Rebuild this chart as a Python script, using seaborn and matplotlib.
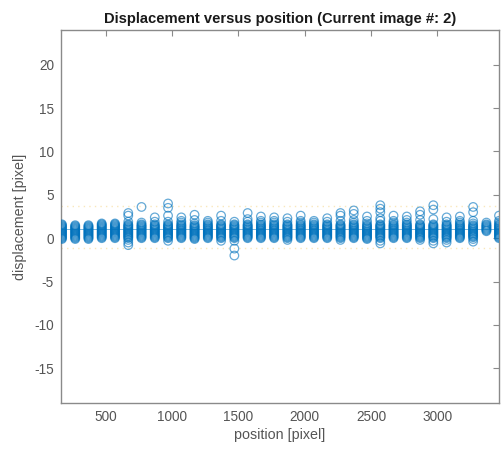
import numpy as np
import pandas as pd
import matplotlib
matplotlib.use("Agg")
import matplotlib.pyplot as plt
import seaborn as sns

sns.set_style("white")
plt.rcParams['font.family'] = ['Liberation Sans', 'DejaVu Sans']

# ---- data ----
title = "Displacement versus position (Current image #: 2)"
x_label = "position [pixel]"
y_label = "displacement [pixel]"
x_ticks = [500, 1000, 1500, 2000, 2500, 3000]
y_ticks = [-15, -10, -5, 0, 5, 10, 15, 20]

column_positions = [170, 270, 370, 470, 570, 670, 770, 870, 970, 1070,
                    1170, 1270, 1370, 1470, 1570, 1670, 1770, 1870, 1970, 2070,
                    2170, 2270, 2370, 2470, 2570, 2670, 2770, 2870, 2970, 3070,
                    3170, 3270, 3370, 3465]

column_values = [
    [-0.1, 0.0, 0.1, 0.2, 0.3, 0.4, 0.5, 0.6, 0.7, 0.8, 0.9, 1.0, 1.1, 1.2, 1.3, 1.4, 1.5, 1.6],
    [-0.1, 0.0, 0.1, 0.2, 0.3, 0.4, 0.5, 0.6, 0.7, 0.8, 0.9, 1.0, 1.1, 1.2, 1.3, 1.4, 1.5],
    [-0.1, 0.0, 0.1, 0.2, 0.3, 0.4, 0.5, 0.6, 0.7, 0.8, 0.9, 1.0, 1.1, 1.2, 1.3, 1.4, 1.5],
    [0.0, 0.1, 0.2, 0.3, 0.4, 0.5, 0.6, 0.7, 0.8, 0.9, 1.0, 1.1, 1.2, 1.3, 1.4, 1.5, 1.6, 1.7],
    [0.0, 0.1, 0.2, 0.3, 0.4, 0.5, 0.6, 0.7, 0.8, 0.9, 1.0, 1.1, 1.2, 1.3, 1.4, 1.5, 1.6, 1.7],
    [-0.8, -0.5, -0.2, 0.0, 0.1, 0.2, 0.3, 0.4, 0.5, 0.6, 0.7, 0.8, 0.9, 1.0, 1.1, 1.2, 1.3, 1.4, 1.5, 1.6, 1.9, 2.6, 2.9],
    [0.0, 0.1, 0.2, 0.3, 0.4, 0.5, 0.6, 0.7, 0.8, 0.9, 1.0, 1.1, 1.2, 1.3, 1.4, 1.5, 1.6, 1.8, 3.6],
    [0.0, 0.1, 0.2, 0.3, 0.4, 0.5, 0.6, 0.7, 0.8, 0.9, 1.0, 1.1, 1.2, 1.3, 1.4, 1.5, 1.6, 1.9, 2.4],
    [-0.3, 0.0, 0.1, 0.2, 0.3, 0.4, 0.5, 0.6, 0.7, 0.8, 0.9, 1.0, 1.1, 1.2, 1.3, 1.4, 1.5, 1.6, 1.9, 2.6, 3.5, 4.0],
    [0.0, 0.1, 0.2, 0.3, 0.4, 0.5, 0.6, 0.7, 0.8, 0.9, 1.0, 1.1, 1.2, 1.3, 1.4, 1.5, 1.6, 1.8, 2.0, 2.4],
    [-0.1, 0.0, 0.1, 0.2, 0.3, 0.4, 0.5, 0.6, 0.7, 0.8, 0.9, 1.0, 1.1, 1.2, 1.3, 1.4, 1.5, 1.7, 2.1, 2.7],
    [0.0, 0.1, 0.2, 0.3, 0.4, 0.5, 0.6, 0.7, 0.8, 0.9, 1.0, 1.1, 1.2, 1.3, 1.4, 1.5, 1.6, 1.8, 2.0],
    [-0.3, 0.0, 0.1, 0.2, 0.3, 0.4, 0.5, 0.6, 0.7, 0.8, 0.9, 1.0, 1.1, 1.2, 1.3, 1.4, 1.5, 1.6, 2.0, 2.6],
    [-2.0, -1.2, -0.3, 0.0, 0.1, 0.2, 0.3, 0.4, 0.5, 0.6, 0.7, 0.8, 0.9, 1.0, 1.1, 1.2, 1.3, 1.4, 1.5, 1.6, 1.9],
    [0.0, 0.1, 0.2, 0.3, 0.4, 0.5, 0.6, 0.7, 0.8, 0.9, 1.0, 1.1, 1.2, 1.3, 1.4, 1.5, 1.6, 1.9, 2.2, 2.9],
    [0.0, 0.1, 0.2, 0.3, 0.4, 0.5, 0.6, 0.7, 0.8, 0.9, 1.0, 1.1, 1.2, 1.3, 1.4, 1.5, 1.6, 1.8, 2.0, 2.5],
    [0.0, 0.1, 0.2, 0.3, 0.4, 0.5, 0.6, 0.7, 0.8, 0.9, 1.0, 1.1, 1.2, 1.3, 1.4, 1.5, 1.6, 1.8, 2.0, 2.4],
    [-0.2, 0.0, 0.1, 0.2, 0.3, 0.4, 0.5, 0.6, 0.7, 0.8, 0.9, 1.0, 1.1, 1.2, 1.3, 1.4, 1.5, 1.6, 1.9, 2.3],
    [0.0, 0.1, 0.2, 0.3, 0.4, 0.5, 0.6, 0.7, 0.8, 0.9, 1.0, 1.1, 1.2, 1.3, 1.4, 1.5, 1.6, 1.8, 2.0, 2.6],
    [0.0, 0.1, 0.2, 0.3, 0.4, 0.5, 0.6, 0.7, 0.8, 0.9, 1.0, 1.1, 1.2, 1.3, 1.4, 1.5, 1.6, 1.8, 2.0],
    [0.0, 0.1, 0.2, 0.3, 0.4, 0.5, 0.6, 0.7, 0.8, 0.9, 1.0, 1.1, 1.2, 1.3, 1.4, 1.5, 1.6, 1.9, 2.3],
    [-0.2, 0.0, 0.1, 0.2, 0.3, 0.4, 0.5, 0.6, 0.7, 0.8, 0.9, 1.0, 1.1, 1.2, 1.3, 1.4, 1.5, 1.6, 2.0, 2.6, 2.9],
    [0.0, 0.1, 0.2, 0.3, 0.4, 0.5, 0.6, 0.7, 0.8, 0.9, 1.0, 1.1, 1.2, 1.3, 1.4, 1.5, 1.6, 1.8, 2.1, 2.8, 3.2],
    [-0.1, 0.0, 0.1, 0.2, 0.3, 0.4, 0.5, 0.6, 0.7, 0.8, 0.9, 1.0, 1.1, 1.2, 1.3, 1.4, 1.5, 1.7, 2.0, 2.5],
    [-0.6, -0.3, 0.0, 0.1, 0.2, 0.3, 0.4, 0.5, 0.6, 0.7, 0.8, 0.9, 1.0, 1.1, 1.2, 1.3, 1.4, 1.5, 1.6, 2.0, 2.3, 3.0, 3.4, 3.8],
    [0.0, 0.1, 0.2, 0.3, 0.4, 0.5, 0.6, 0.7, 0.8, 0.9, 1.0, 1.1, 1.2, 1.3, 1.4, 1.5, 1.6, 1.8, 2.0, 2.6],
    [0.0, 0.1, 0.2, 0.3, 0.4, 0.5, 0.6, 0.7, 0.8, 0.9, 1.0, 1.1, 1.2, 1.3, 1.4, 1.5, 1.6, 1.8, 2.1, 2.5],
    [-0.2, 0.0, 0.1, 0.2, 0.3, 0.4, 0.5, 0.6, 0.7, 0.8, 0.9, 1.0, 1.1, 1.2, 1.3, 1.4, 1.5, 1.6, 2.1, 2.7, 3.1],
    [-0.6, -0.3, 0.0, 0.1, 0.2, 0.3, 0.4, 0.5, 0.6, 0.7, 0.8, 0.9, 1.0, 1.1, 1.2, 1.3, 1.4, 1.5, 1.6, 2.2, 3.3, 3.8],
    [-0.5, -0.2, 0.0, 0.1, 0.2, 0.3, 0.4, 0.5, 0.6, 0.7, 0.8, 0.9, 1.0, 1.1, 1.2, 1.3, 1.4, 1.5, 1.6, 1.9, 2.4],
    [0.0, 0.1, 0.2, 0.3, 0.4, 0.5, 0.6, 0.7, 0.8, 0.9, 1.0, 1.1, 1.2, 1.3, 1.4, 1.5, 1.6, 1.8, 2.0, 2.5],
    [-0.4, -0.1, 0.1, 0.2, 0.3, 0.4, 0.5, 0.6, 0.7, 0.8, 0.9, 1.0, 1.1, 1.2, 1.3, 1.4, 1.5, 1.7, 2.0, 3.0, 3.6],
    [0.8, 0.9, 1.0, 1.1, 1.2, 1.3, 1.4, 1.5, 1.6, 1.8],
    [0.0, 0.1, 0.2, 0.3, 0.4, 0.5, 0.6, 0.7, 0.8, 0.9, 1.0, 1.1, 1.2, 1.3, 1.4, 1.5, 1.6, 1.8, 2.0, 2.6],
]

mean_level = 1.05
band_levels = [-1.1, 3.7]

# ---- build table ----
xs, ys = [], []
for pos, vals in zip(column_positions, column_values):
    for v in vals:
        xs.append(pos)
        ys.append(v)
df = pd.DataFrame({"position": xs, "displacement": ys})

blue = "#0072BD"
axis_gray = "#8a8a8a"
text_gray = "#555555"

fig = plt.figure(figsize=(5.01, 4.55), dpi=100)
ax = fig.add_axes([61 / 501, 52 / 455, 438 / 501, 373 / 455])

for lvl in band_levels:
    ax.axhline(lvl, color="#EDB120", lw=1.0, ls=(0, (1, 3)), alpha=0.3, zorder=1)
ax.axhline(mean_level, color=blue, lw=0.6, alpha=0.6, zorder=1)

sns.scatterplot(data=df, x="position", y="displacement", ax=ax,
                marker="o", s=38, facecolors="none", edgecolors=blue,
                linewidths=0.9, alpha=0.6, legend=False, zorder=3, clip_on=True)

ax.set_xlim(163, 3465)
ax.set_ylim(-19, 24)
ax.set_xticks(x_ticks)
ax.set_yticks(y_ticks)
ax.set_xticklabels([str(t) for t in x_ticks])
ax.set_yticklabels([str(t) for t in y_ticks])

for sp in ax.spines.values():
    sp.set_color(axis_gray)
    sp.set_linewidth(1.0)
    sp.set_visible(True)
ax.tick_params(direction="in", length=4, width=0.8, color=axis_gray,
               top=True, right=True, labelsize=9.8, labelcolor=text_gray, pad=5)

ax.set_xlabel(x_label, fontsize=10.3, color=text_gray, labelpad=3)
ax.set_ylabel(y_label, fontsize=10.3, color=text_gray, labelpad=5)
ax.set_title(title, fontsize=10.6, fontweight="bold", color="#1a1a1a", pad=5)

fig.savefig("out.png", dpi=100)
